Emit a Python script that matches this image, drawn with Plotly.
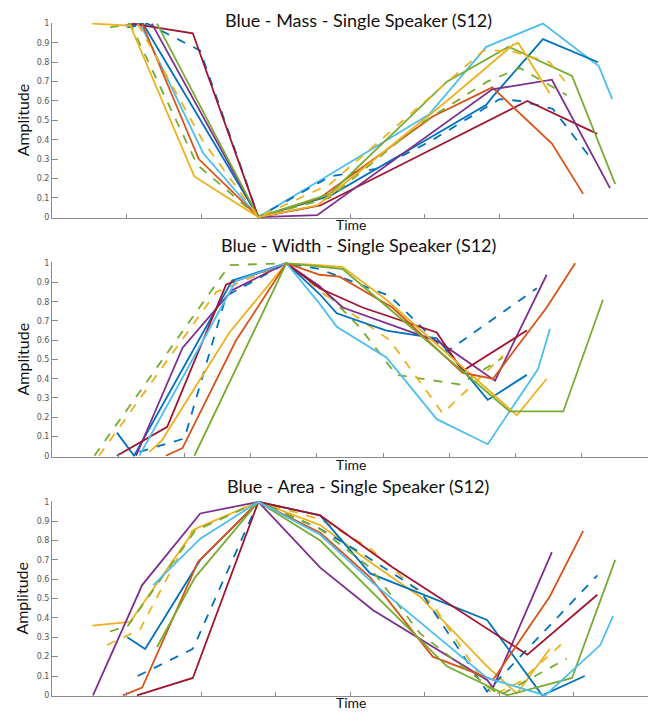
import plotly.graph_objects as go

# MATLAB default colour order
BLUE = "#0072BD"
ORANGE = "#D95319"
YELLOW = "#EDB120"
PURPLE = "#7E2F8E"
GREEN = "#77AC30"
LIGHTBLUE = "#4DBEEE"
DARKRED = "#A2142F"

# ---------------- Panel 1: Mass (time, amplitude) ----------------
mass_lightblue = [(1.18, 1.0), (1.38, 0.85), (2.03, 0.33), (2.77, 0), (3.73, 0.22), (5.06, 0.53), (5.83, 0.88), (6.59, 1.0), (7.34, 0.78), (7.52, 0.61)]
mass_blue = [(0.98, 0.99), (1.22, 1.0), (2.77, 0), (3.73, 0.11), (4.94, 0.38), (5.83, 0.58), (5.91, 0.62), (6.59, 0.92), (7.33, 0.80)]
mass_blue_dash = [(1.01, 0.98), (1.28, 1.0), (1.99, 0.86), (2.77, 0), (3.73, 0.21), (4.36, 0.25), (5.07, 0.39), (5.70, 0.54), (6.01, 0.61), (6.28, 0.60), (6.72, 0.56), (7.26, 0.29)]
mass_darkred = [(1.07, 1.0), (1.89, 0.95), (2.77, 0), (3.60, 0.06), (4.58, 0.25), (6.38, 0.60), (7.32, 0.43)]
mass_orange = [(1.21, 1.0), (1.97, 0.30), (2.77, 0), (3.60, 0.10), (5.11, 0.52), (5.91, 0.67), (6.71, 0.38), (7.13, 0.12)]
mass_purple = [(1.34, 1.0), (2.77, 0), (3.56, 0.01), (5.91, 0.66), (6.71, 0.71), (7.49, 0.15)]
mass_green = [(1.41, 1.0), (2.77, 0), (3.73, 0.12), (5.30, 0.70), (6.13, 0.88), (6.98, 0.73), (7.56, 0.17)]
mass_green_dash = [(0.78, 0.98), (1.05, 1.0), (1.95, 0.27), (2.77, 0), (3.73, 0.10), (4.90, 0.47), (5.84, 0.70), (6.28, 0.77), (6.91, 0.63)]
mass_yellow_dash = [(1.15, 1.0), (2.03, 0.39), (2.77, 0), (3.73, 0.17), (5.79, 0.86), (6.15, 0.86), (6.68, 0.80), (6.91, 0.69)]
mass_yellow = [(0.54, 1.0), (1.05, 0.99), (1.91, 0.21), (2.77, 0), (3.56, 0.06), (5.30, 0.60), (6.19, 0.89), (6.26, 0.90), (6.68, 0.64)]

# ---------------- Panel 2: Width ----------------
width_green_dash = [(0.64, 0), (2.68, 0.99), (3.54, 1.0), (4.04, 0.88), (4.64, 0.67), (5.20, 0.42), (6.16, 0.37), (6.81, 0.51)]
width_yellow_dash = [(0.71, 0), (2.48, 0.85), (3.54, 1.0), (4.11, 0.84), (5.10, 0.60), (5.90, 0.22), (6.81, 0.52)]
width_blue = [(0.98, 0.12), (1.24, 0), (2.72, 0.91), (3.54, 1.0), (4.04, 0.84), (4.30, 0.74), (5.05, 0.65), (5.81, 0.61), (6.58, 0.29), (7.17, 0.42)]
width_blue_dash = [(1.32, 0.02), (2.00, 0.09), (2.63, 0.83), (3.54, 1.0), (4.04, 0.97), (5.10, 0.83), (5.96, 0.54), (7.32, 0.87)]
width_purple = [(1.27, 0), (1.97, 0.56), (2.72, 0.86), (3.54, 1.0), (4.04, 0.88), (4.39, 0.77), (5.85, 0.59), (6.69, 0.39), (7.47, 0.94)]
width_darkred = [(0.98, 0), (1.74, 0.15), (2.63, 0.89), (3.54, 1.0), (4.04, 0.87), (4.69, 0.77), (5.81, 0.64), (6.20, 0.44), (7.17, 0.65)]
width_lightblue = [(1.32, 0), (2.78, 0.91), (3.54, 1.0), (4.04, 0.79), (4.30, 0.67), (5.05, 0.51), (5.81, 0.19), (6.58, 0.06), (7.34, 0.45), (7.52, 0.66)]
width_yellow = [(1.47, 0.02), (1.66, 0.08), (2.68, 0.64), (3.54, 1.0), (4.04, 0.99), (4.39, 0.98), (5.05, 0.81), (7.02, 0.21), (7.47, 0.40)]
width_orange = [(1.72, 0), (1.97, 0.04), (2.78, 0.60), (3.54, 1.0), (4.04, 0.94), (4.34, 0.93), (5.14, 0.77), (6.20, 0.43), (6.66, 0.40), (7.47, 0.77), (7.90, 1.0)]
width_green = [(2.15, 0), (3.54, 1.0), (4.39, 0.97), (6.91, 0.23), (7.72, 0.23), (8.32, 0.81)]

# ---------------- Panel 3: Area ----------------
area_yellow = [(0.54, 0.36), (1.05, 0.38), (1.92, 0.86), (2.77, 1.0), (3.60, 0.88), (4.23, 0.70), (4.94, 0.51), (5.84, 0.15), (6.24, 0.01), (6.68, 0.24)]
area_yellow_dash = [(0.74, 0.26), (1.18, 0.34), (1.88, 0.85), (2.77, 1.0), (3.60, 0.91), (4.27, 0.76), (5.11, 0.47), (5.92, 0.0), (6.28, 0.07), (6.91, 0.29)]
area_purple = [(0.55, 0), (1.21, 0.57), (1.99, 0.94), (2.77, 1.0), (3.60, 0.66), (4.31, 0.44), (5.84, 0.08), (5.92, 0.04), (6.71, 0.74)]
area_blue = [(1.01, 0.30), (1.25, 0.24), (1.99, 0.70), (2.77, 1.0), (3.60, 0.93), (4.27, 0.63), (5.84, 0.39), (6.58, 0.0), (7.15, 0.10)]
area_blue_dash = [(1.15, 0.10), (1.89, 0.24), (2.77, 1.0), (3.60, 0.86), (4.17, 0.73), (4.94, 0.54), (5.84, 0.02), (7.32, 0.62)]
area_darkred = [(1.14, 0), (1.89, 0.09), (2.77, 1.0), (3.60, 0.93), (4.58, 0.66), (6.38, 0.21), (7.32, 0.52)]
area_orange = [(0.95, 0), (1.21, 0.04), (1.96, 0.69), (2.77, 1.0), (3.60, 0.84), (4.27, 0.61), (5.11, 0.20), (5.92, 0.08), (6.68, 0.51), (7.13, 0.85)]
area_green = [(1.41, 0.25), (1.92, 0.61), (2.77, 1.0), (3.60, 0.80), (5.30, 0.15), (6.11, 0.0), (6.98, 0.09), (7.56, 0.70)]
area_green_dash = [(0.78, 0.33), (1.02, 0.36), (1.92, 0.85), (2.77, 1.0), (3.60, 0.86), (4.27, 0.66), (4.94, 0.32), (6.01, 0.0), (6.91, 0.19)]
area_lightblue = [(1.36, 0.57), (1.99, 0.81), (2.77, 1.0), (3.60, 0.83), (4.31, 0.58), (5.84, 0.09), (6.62, 0.0), (7.36, 0.26), (7.53, 0.41)]

titles = ["Blue - Mass - Single Speaker (S12)",
          "Blue - Width - Single Speaker (S12)",
          "Blue - Area - Single Speaker (S12)"]
x_max = [8, 9, 8]
y_ticks = [0, 0.1, 0.2, 0.3, 0.4, 0.5, 0.6, 0.7, 0.8, 0.9, 1]

panels = [
    [(mass_lightblue, LIGHTBLUE, "solid"), (mass_blue, BLUE, "solid"), (mass_blue_dash, BLUE, "dash"),
     (mass_darkred, DARKRED, "solid"), (mass_orange, ORANGE, "solid"), (mass_purple, PURPLE, "solid"),
     (mass_green, GREEN, "solid"), (mass_green_dash, GREEN, "dash"), (mass_yellow_dash, YELLOW, "dash"),
     (mass_yellow, YELLOW, "solid")],
    [(width_green_dash, GREEN, "dash"), (width_yellow_dash, YELLOW, "dash"), (width_blue, BLUE, "solid"),
     (width_blue_dash, BLUE, "dash"), (width_purple, PURPLE, "solid"), (width_darkred, DARKRED, "solid"),
     (width_lightblue, LIGHTBLUE, "solid"), (width_yellow, YELLOW, "solid"), (width_orange, ORANGE, "solid"),
     (width_green, GREEN, "solid")],
    [(area_yellow, YELLOW, "solid"), (area_yellow_dash, YELLOW, "dash"), (area_purple, PURPLE, "solid"),
     (area_blue, BLUE, "solid"), (area_blue_dash, BLUE, "dash"), (area_darkred, DARKRED, "solid"),
     (area_orange, ORANGE, "solid"), (area_green, GREEN, "solid"), (area_green_dash, GREEN, "dash"),
     (area_lightblue, LIGHTBLUE, "solid")],
]

W, H = 657, 715
# pixel layout of each axes box (top of y=1, bottom of y=0)
boxes = [(20, 217), (262, 458), (503, 700)]
x_left, x_right = 52, 648
title_y = [17, 244, 488]
time_y = [224, 466, 706]

fig = go.Figure()
layout = dict(width=W, height=H, margin=dict(l=0, r=0, t=0, b=0),
              paper_bgcolor="white", plot_bgcolor="white", showlegend=False,
              font=dict(family="Lato, Open Sans, sans-serif", color="#111"))
annotations = []
AX = "#8a8a8a"
for i, series in enumerate(panels):
    n = i + 1
    xa = "x" if n == 1 else f"x{n}"
    ya = "y" if n == 1 else f"y{n}"
    for pts, col, dash in series:
        fig.add_trace(go.Scatter(
            x=[p[0] for p in pts], y=[p[1] for p in pts], mode="lines",
            line=dict(color=col, width=1.8, dash=dash),
            xaxis=xa, yaxis=ya, hoverinfo="skip"))
    top, bot = boxes[i]
    layout[f"xaxis{'' if n == 1 else n}"] = dict(
        domain=[x_left / W, x_right / W], range=[0, x_max[i]], anchor=ya,
        showgrid=False, zeroline=False, showline=True, linecolor=AX, linewidth=1,
        ticks="inside", ticklen=4, tickcolor=AX, dtick=1, tick0=0, showticklabels=False)
    layout[f"yaxis{'' if n == 1 else n}"] = dict(
        domain=[1 - bot / H, 1 - top / H], range=[-0.004, 1.004], anchor=xa,
        showgrid=False, zeroline=False, showline=True, linecolor=AX, linewidth=1,
        ticks="inside", ticklen=6, tickcolor=AX, tickvals=y_ticks,
        ticktext=[f"{v:g}" for v in y_ticks],
        tickfont=dict(family="DejaVu Sans", size=8, color="#555"))
    annotations.append(dict(text=titles[i], x=358 / W, y=1 - title_y[i] / H, xref="paper", yref="paper",
                            showarrow=False, xanchor="center", yanchor="middle",
                            font=dict(size=18, family="Lato, sans-serif", color="#111")))
    annotations.append(dict(text="Time", x=351 / W, y=1 - time_y[i] / H, xref="paper", yref="paper",
                            showarrow=False, xanchor="center", yanchor="middle",
                            font=dict(size=14, family="Lato, sans-serif", color="#111")))
    annotations.append(dict(text="Amplitude", x=22 / W, y=1 - (top + bot) / 2 / H, xref="paper", yref="paper",
                            showarrow=False, xanchor="center", yanchor="middle", textangle=-90,
                            font=dict(size=16, family="Lato, sans-serif", color="#111")))
layout["annotations"] = annotations
fig.update_layout(**layout)
fig.write_html("out.html")
